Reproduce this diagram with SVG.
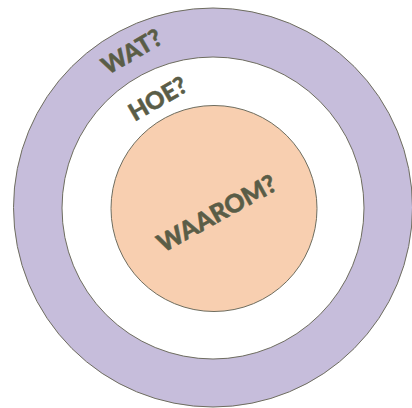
<svg xmlns="http://www.w3.org/2000/svg" width="412" height="408" viewBox="0 0 412 408">
<style>
.ring{stroke:#6e6d5f;stroke-width:1}
.lbl{font-family:Lato,"Open Sans","Liberation Sans",sans-serif;font-weight:900;fill:#5a5d47;stroke:#5a5d47;stroke-width:0.5;text-anchor:middle}
</style>
<rect width="412" height="408" fill="#ffffff"/>
<g id="wat">
<circle class="ring" cx="213" cy="207.5" r="199.5" fill="#c6bddb"/>
</g>
<g id="hoe">
<circle class="ring" cx="213" cy="208" r="151" fill="#ffffff"/>
</g>
<g id="waarom">
<circle class="ring" cx="214" cy="208.5" r="103" fill="#f8cfb0"/>
</g>
<g id="labels">
<text class="lbl" font-size="24" transform="translate(136,59) rotate(-30)">WAT?</text>
<text class="lbl" font-size="24" transform="translate(162,106) rotate(-30)">HOE?</text>
<text class="lbl" font-size="25" transform="translate(221,221) rotate(-29)">WAAROM?</text>
</g>
<g id="connectors"></g>
</svg>
